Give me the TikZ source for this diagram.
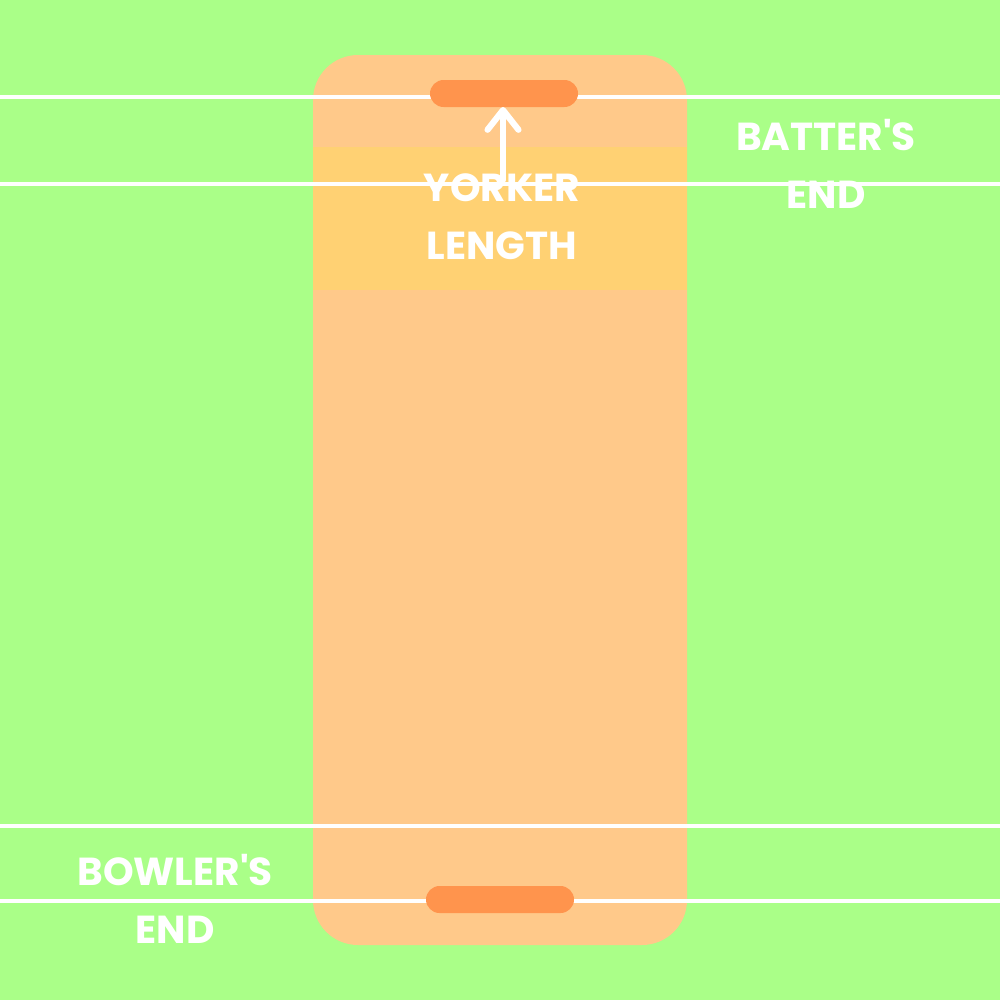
\documentclass[tikz,border=0pt]{standalone}
\usepackage{fontspec}
\newfontfamily\labelfont{Poppins}
\usetikzlibrary{arrows.meta, positioning, calc}

\definecolor{grass}{HTML}{AAFF88}
\definecolor{pitchcol}{HTML}{FFC98A}
\definecolor{yorkercol}{HTML}{FFD173}
\definecolor{stumpcol}{HTML}{FF944D}

\tikzset{
    crease/.style={white, line width=1.15pt},
    stumps/.style={fill=stumpcol, rounded corners=3.85pt},
    endlabel/.style={text=white, font=\labelfont\bfseries\fontsize{11.1}{16.5}\selectfont, align=center, inner sep=0pt}
}

\begin{document}
\begin{tikzpicture}[x=0.01cm, y=-0.01cm]
    % Ground
    \fill[grass] (0,0) rectangle (1000,1000);
    \useasboundingbox (0,0) rectangle (1000,1000);

    % Pitch
    \fill[pitchcol, rounded corners=12.8pt] (313,55) rectangle (687,945);
    \fill[yorkercol] (313,147) rectangle (687,290);

    % Crease lines
    \draw[crease] (0,97) -- (1000,97);
    \draw[crease] (0,184) -- (1000,184);
    \draw[crease] (0,826) -- (1000,826);
    \draw[crease] (0,901) -- (1000,901);

    % Stumps
    \fill[stumps] (430,80) rectangle (578,107);
    \coordinate (batstump) at (503,107);
    \fill[stumps] (426,886) rectangle (574,913);

    % Labels
    \node[endlabel] (yorker) at (502,217) {YORKER\\LENGTH};
    \node[endlabel] (batter) at (826,164) {BATTER'S\\END};
    \node[endlabel] (bowler) at (175,899) {BOWLER'S\\END};

    % Arrow to the batter's stumps
    \coordinate (arrowfoot) at (503,180);
    \draw[-{Straight Barb[length=5.6pt, width=8.8pt, round]}, white, line width=1.75pt, line cap=round] (arrowfoot) -- (batstump);

\end{tikzpicture}
\end{document}
